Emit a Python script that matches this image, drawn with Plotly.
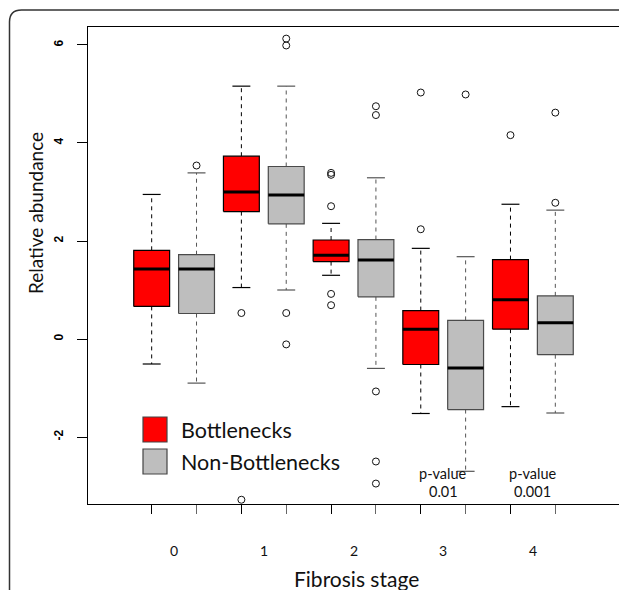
import plotly.graph_objects as go

# ---------------- data ----------------
stages = ["0", "1", "2", "3", "4"]
group_names = ["Bottlenecks", "Non-Bottlenecks"]

bn_lower = [-0.51, 1.05, 1.30, -1.52, -1.38]
bn_q1 = [0.665, 2.60, 1.58, -0.52, 0.20]
bn_median = [1.43, 3.00, 1.71, 0.20, 0.80]
bn_q3 = [1.81, 3.73, 2.02, 0.58, 1.62]
bn_upper = [2.95, 5.16, 2.36, 1.85, 2.75]
bn_outliers = [[], [0.53, -3.28], [3.39, 3.35, 2.71, 0.92, 0.69], [2.24, 5.03], [4.16]]

nb_lower = [-0.90, 1.00, -0.60, -2.70, -1.51]
nb_q1 = [0.52, 2.35, 0.86, -1.44, -0.32]
nb_median = [1.43, 2.94, 1.61, -0.59, 0.33]
nb_q3 = [1.72, 3.52, 2.03, 0.38, 0.88]
nb_upper = [3.39, 5.16, 3.29, 1.68, 2.63]
nb_outliers = [[3.54], [0.53, -0.11, 6.13, 5.99], [4.75, 4.57, -1.07, -2.50, -2.95], [4.99], [2.78, 4.62]]

pvalue_stages = ["3", "4"]
pvalue_texts = ["0.01", "0.001"]

y_ticks = [-2, 0, 2, 4, 6]

# ---------------- style ----------------
W, H = 627, 590
OFF = 8  # page body margin: screen px = figure px + OFF
PL, PR, PT, PB = 88, 619, 27, 504  # plot frame in screen pixels
L, R, T, B = PL - OFF, W - (PR - OFF), PT - OFF, H - (PB - OFF)
fills = ["#FF0000", "#BEBEBE"]
edges = ["#000000", "#4a4a4a"]
whisk_cols = ["#000000", "#555555"]
HALF_BOX = 0.4
HALF_CAP = 0.2
TXT_FONT = "Lato"

def px2x(px):
    return (px - PL) / (PR - PL)

def px2y(py):
    return (PB - py) / (PB - PT)

groups = [
    dict(lower=bn_lower, q1=bn_q1, med=bn_median, q3=bn_q3, upper=bn_upper, out=bn_outliers),
    dict(lower=nb_lower, q1=nb_q1, med=nb_median, q3=nb_q3, upper=nb_upper, out=nb_outliers),
]

fig = go.Figure()

for g, d in enumerate(groups):
    bx, by, mx, my, wx, wy, cx, cy, ox, oy = [], [], [], [], [], [], [], [], [], []
    for i, _ in enumerate(stages):
        x = 2 * i + 1 + g
        bx += [x - HALF_BOX, x + HALF_BOX, x + HALF_BOX, x - HALF_BOX, x - HALF_BOX, None]
        by += [d["q1"][i], d["q1"][i], d["q3"][i], d["q3"][i], d["q1"][i], None]
        mx += [x - HALF_BOX, x + HALF_BOX, None]
        my += [d["med"][i], d["med"][i], None]
        wx += [x, x, None, x, x, None]
        wy += [d["q3"][i], d["upper"][i], None, d["q1"][i], d["lower"][i], None]
        cx += [x - HALF_CAP, x + HALF_CAP, None, x - HALF_CAP, x + HALF_CAP, None]
        cy += [d["upper"][i], d["upper"][i], None, d["lower"][i], d["lower"][i], None]
        for v in d["out"][i]:
            ox.append(x)
            oy.append(v)
    fig.add_trace(go.Scatter(x=wx, y=wy, mode="lines", showlegend=False, hoverinfo="skip",
                             line=dict(color=whisk_cols[g], width=1, dash="4px,4px")))
    fig.add_trace(go.Scatter(x=cx, y=cy, mode="lines", showlegend=False, hoverinfo="skip",
                             line=dict(color=whisk_cols[g], width=1.2)))
    fig.add_trace(go.Scatter(x=bx, y=by, mode="lines", fill="toself", fillcolor=fills[g],
                             name=group_names[g], showlegend=False,
                             line=dict(color=edges[g], width=1.2)))
    fig.add_trace(go.Scatter(x=mx, y=my, mode="lines", showlegend=False, hoverinfo="skip",
                             line=dict(color="#000000", width=3)))
    fig.add_trace(go.Scatter(x=ox, y=oy, mode="markers", showlegend=False,
                             marker=dict(symbol="circle-open", size=7, color="#111111",
                                         line=dict(width=1))))

annotations = []
# category labels
for i, s in enumerate(stages):
    annotations.append(dict(x=2 * i + 1.5, y=px2y(550), xref="x", yref="paper", text=s,
                            showarrow=False, font=dict(family=TXT_FONT, size=14, color="#111"),
                            xanchor="center", yanchor="middle"))
# p-values
for s, p in zip(pvalue_stages, pvalue_texts):
    i = stages.index(s)
    annotations.append(dict(x=2 * i + 1.5, y=px2y(473), xref="x", yref="paper", text="p-value",
                            showarrow=False, font=dict(family=TXT_FONT, size=14.5, color="#111"),
                            xanchor="center", yanchor="middle"))
    annotations.append(dict(x=2 * i + 1.5, y=px2y(491), xref="x", yref="paper", text=p,
                            showarrow=False, font=dict(family=TXT_FONT, size=14.5, color="#111"),
                            xanchor="center", yanchor="middle"))
# axis titles
annotations.append(dict(x=px2x(356), y=px2y(578), xref="paper", yref="paper", text="Fibrosis stage",
                        showarrow=False, font=dict(family=TXT_FONT, size=21, color="#111"),
                        xanchor="center", yanchor="middle"))
annotations.append(dict(x=px2x(35), y=px2y(213), xref="paper", yref="paper", text="Relative abundance",
                        showarrow=False, textangle=-90, font=dict(family=TXT_FONT, size=19, color="#111"),
                        xanchor="center", yanchor="middle"))
# legend
shapes = []
legend_rows = [(417, 442), (449, 474)]
for g, (y0, y1) in enumerate(legend_rows):
    shapes.append(dict(type="rect", xref="paper", yref="paper",
                       x0=px2x(143), x1=px2x(167), y0=px2y(y1), y1=px2y(y0),
                       fillcolor=fills[g], line=dict(color="#444", width=1.2)))
    annotations.append(dict(x=px2x(179), y=px2y((y0 + y1) / 2), xref="paper", yref="paper",
                            text=group_names[g], showarrow=False,
                            font=dict(family=TXT_FONT, size=21.5, color="#111"),
                            xanchor="left", yanchor="middle"))

# outer rounded panel border
rx, ry = 12 / (PR - PL), 12 / (PB - PT)
x0b, x1b = px2x(9.5), px2x(629)
y1b, y0b = px2y(10), px2y(620)
path = (f"M {x0b},{y0b} L {x0b},{y1b - ry} Q {x0b},{y1b} {x0b + rx},{y1b} "
        f"L {x1b - rx},{y1b} Q {x1b},{y1b} {x1b},{y1b - ry} L {x1b},{y0b}")
shapes.append(dict(type="path", xref="paper", yref="paper", path=path,
                   line=dict(color="#333", width=1.5)))

fig.update_layout(
    width=W, height=H,
    margin=dict(l=L, r=R, t=T, b=B),
    paper_bgcolor="white", plot_bgcolor="white",
    xaxis=dict(range=[-0.42, 11.42], tickvals=[1, 3, 5, 7, 9], ticktext=["", "", "", "", ""],
               ticks="outside", ticklen=9, tickcolor="#000", tickwidth=1.2,
               showgrid=False, zeroline=False, showline=True, linecolor="#000", linewidth=1.3,
               mirror=True),
    xaxis2=dict(range=[-0.42, 11.42], overlaying="x", side="bottom", tickvals=[2, 4, 6, 8, 10],
                ticktext=["", "", "", "", ""], ticks="outside", ticklen=9, tickcolor="#666",
                tickwidth=1.2, showgrid=False, zeroline=False, showline=False),
    yaxis=dict(range=[-3.367, 6.367], tickvals=y_ticks, ticktext=[str(v) for v in y_ticks],
               ticks="outside", ticklen=10, tickcolor="#000", tickwidth=1.2, tickangle=-90,
               ticklabelstandoff=9,
               tickfont=dict(family="Liberation Sans", size=12, color="#000", weight="bold"),
               showgrid=False, zeroline=False, showline=True, linecolor="#000", linewidth=1.3,
               mirror=True),
    annotations=annotations,
    shapes=shapes,
)
# invisible trace to activate xaxis2 ticks
fig.add_trace(go.Scatter(x=[None], y=[None], xaxis="x2", showlegend=False, hoverinfo="skip"))

fig.write_html("out.html")
